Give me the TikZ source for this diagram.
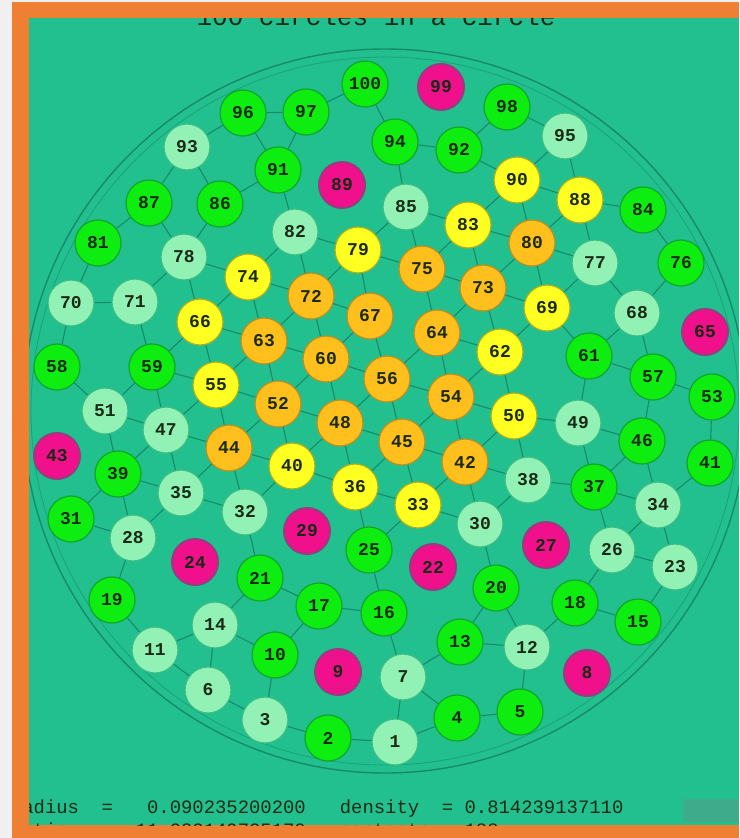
\documentclass[tikz,border=0pt]{standalone}
\usepackage{fontspec}
\setmonofont{Liberation Mono}
\definecolor{bg}{HTML}{22C08F}
\definecolor{frame}{HTML}{EE7F33}
\definecolor{outside}{HTML}{F0F0F0}
\definecolor{cgreen}{HTML}{0DEE10}
\definecolor{cgreenD}{HTML}{10A52A}
\definecolor{cmint}{HTML}{92F2B6}
\definecolor{cmintD}{HTML}{3DBE85}
\definecolor{cyellow}{HTML}{FFFF22}
\definecolor{cyellowD}{HTML}{A8B020}
\definecolor{corange}{HTML}{FFC01E}
\definecolor{corangeD}{HTML}{B89020}
\definecolor{cpink}{HTML}{F0108C}
\definecolor{cpinkD}{HTML}{B01E7C}
\definecolor{clink}{HTML}{168A6A}
\definecolor{numtxt}{HTML}{1A2A14}
\begin{document}
\begin{tikzpicture}[x=1pt,y=-1pt,
  ball/.style={circle,minimum size=46pt,inner sep=0pt,line width=1.2pt,
    font=\fontsize{18}{18}\selectfont\ttfamily\bfseries,text=numtxt},
  bgreen/.style={fill=cgreen,draw=cgreenD},
  bmint/.style={fill=cmint,draw=cmintD},
  byellow/.style={fill=cyellow,draw=cyellowD},
  borange/.style={fill=corange,draw=corangeD},
  bpink/.style={fill=cpink,draw=cpinkD!80!bg,line width=2pt},
  contact/.style={draw=clink,line width=1.1pt},
  info/.style={font=\fontsize{18.9}{18.9}\selectfont\ttfamily,text=numtxt,anchor=base west,inner sep=0pt}]
\useasboundingbox (0,0) rectangle (739,838);
\fill[outside] (0,0) rectangle (739,838);
\fill[frame] (12,2) rectangle (739,838);
\fill[bg] (29,18) rectangle (739,825);
\begin{scope}
\clip (29,18) rectangle (739,825);
\node[circle,draw=clink,line width=1.4pt,minimum size=724pt,inner sep=0pt] (cont) at (385,411) {};
\node[circle,draw=clink!60!bg,line width=0.8pt,minimum size=708pt,inner sep=0pt] (inner) at (385,411) {};
\node[font=\fontsize{26}{26}\selectfont\ttfamily,text=numtxt,anchor=base,inner sep=0pt] (title) at (376,25) {100 circles in a circle};
\foreach \n/\x/\y/\s in {
1/395/742/bmint, 2/328/738/bgreen, 3/265/720/bmint, 4/457/718/bgreen, 5/520/712/bgreen,
6/208/690/bmint, 7/403/677/bmint, 8/587/673/bpink, 9/338/672/bpink, 10/275/655/bgreen,
11/155/650/bmint, 12/527/647/bmint, 13/460/642/bgreen, 14/215/625/bmint, 15/638/622/bgreen,
16/384/613/bgreen, 17/319/606/bgreen, 18/575/603/bgreen, 19/112/600/bgreen, 20/496/588/bgreen,
21/260/578/bgreen, 22/433/567/bpink, 23/675/567/bmint, 24/195/562/bpink, 25/369/550/bgreen,
26/612/550/bmint, 27/546/545/bpink, 28/133/538/bmint, 29/307/531/bpink, 30/480/524/bmint,
31/71/519/bgreen, 32/245/512/bmint, 33/418/505/byellow, 34/658/505/bmint, 35/181/493/bmint,
36/355/487/byellow, 37/594/487/bgreen, 38/528/480/bmint, 39/118/474/bgreen, 40/292/466/byellow,
41/710/463/bgreen, 42/465/462/borange, 43/57/456/bpink, 44/229/448/borange, 45/402/442/borange,
46/642/441/bgreen, 47/166/430/bmint, 48/340/423/borange, 49/578/423/bmint, 50/514/416/byellow,
51/105/411/bmint, 52/278/404/borange, 53/712/397/bgreen, 54/451/397/borange, 55/216/385/byellow,
56/387/379/borange, 57/653/377/bgreen, 58/57/367/bgreen, 59/152/367/bgreen, 60/326/359/borange,
61/589/356/bgreen, 62/500/352/byellow, 63/264/341/borange, 64/437/333/borange, 65/705/332/bpink,
66/200/322/byellow, 67/370/316/borange, 68/637/313/bmint, 69/547/308/byellow, 70/71/303/bmint,
71/135/302/bmint, 72/311/296/borange, 73/483/288/borange, 74/248/277/byellow, 75/422/269/borange,
76/681/263/bgreen, 77/595/263/bmint, 78/184/257/bmint, 79/358/250/byellow, 80/532/243/borange,
81/98/243/bgreen, 82/295/232/bmint, 83/468/225/byellow, 84/643/210/bgreen, 85/406/207/bmint,
86/220/204/bgreen, 87/149/203/bgreen, 88/580/200/byellow, 89/342/185/bpink, 90/517/180/byellow,
91/278/170/bgreen, 92/459/150/bgreen, 93/187/147/bmint, 94/395/142/bgreen, 95/565/136/bmint,
96/243/113/bgreen, 97/306/112/bgreen, 98/507/107/bgreen, 99/441/87/bpink, 100/365/84/bgreen}{
  \node[ball,\s] (c\n) at (\x,\y) {\n};
  \expandafter\xdef\csname px\n\endcsname{\x}
  \expandafter\xdef\csname py\n\endcsname{\y}
}
\foreach \p in {8,9,22,24,27,29,43,65,89,99}{\expandafter\gdef\csname rat\p\endcsname{}}
\foreach \i in {1,...,99}{
  \pgfmathtruncatemacro\ii{\i+1}
  \foreach \j in {\ii,...,100}{
    \ifcsname rat\i\endcsname\else\ifcsname rat\j\endcsname\else
      \edef\xa{\csname px\i\endcsname}\edef\ya{\csname py\i\endcsname}
      \edef\xb{\csname px\j\endcsname}\edef\yb{\csname py\j\endcsname}
      \pgfmathsetmacro\dd{veclen(\xa-\xb,\ya-\yb)}
      \ifdim\dd pt<68pt \draw[contact] (c\i) -- (c\j);\fi
    \fi\fi
  }
}
\node[info] (line1) at (10.8,813) {radius~~=~~~0.090235200200~~~density~~=~0.814239137110};
\node[info] (line2) at (10.8,836) {ratio~~~=~~11.082149735170~~~contacts~=~188};
\fill[gray!60!bg,opacity=0.5] (683,799) rectangle (739,822);
\end{scope}
\end{tikzpicture}
\end{document}
